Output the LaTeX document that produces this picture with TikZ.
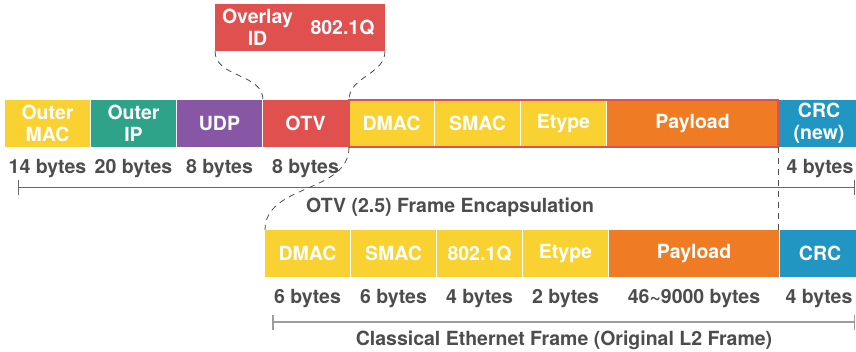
\documentclass[tikz,border=0pt]{standalone}
\usepackage{fontspec}
\setmainfont{TeX Gyre Heros}
\usetikzlibrary{positioning,arrows.meta}
\definecolor{macyellow}{HTML}{F9D231}
\definecolor{ipgreen}{HTML}{2FA38A}
\definecolor{udppurple}{HTML}{8757A6}
\definecolor{otvred}{HTML}{E0504E}
\definecolor{payorange}{HTML}{EF7C24}
\definecolor{crcblue}{HTML}{2196C2}
\definecolor{labelgray}{HTML}{4D4D4D}

\begin{document}
\begin{tikzpicture}[x=1pt, y=-1pt,
  every node/.style = {font=\fontsize{19.5}{22}\selectfont\bfseries,
    inner sep=0pt, outer sep=0pt},
  field/.style = {minimum width=85pt, minimum height=47pt,
    text=white, align=center},
  bytes/.style = {text=labelgray},
  span/.style = {draw=labelgray!85, line width=1pt,
    {Bar[width=15pt]}-{Bar[width=15pt]}},
  zoomline/.style = {draw=labelgray, line width=0.8pt,
    dash pattern=on 6pt off 5pt}]
  \useasboundingbox (0,0) rectangle (856,351);

  % OTV encapsulated frame
  \node[field, fill=macyellow, anchor=north west] (omac) at (5,100) {Outer\\MAC};
  \node[field, fill=ipgreen, right=1pt of omac] (oip) {Outer\\IP};
  \node[field, fill=udppurple, right=1pt of oip] (udp) {UDP};
  \node[field, fill=otvred, right=1pt of udp] (otv) {OTV};
  \node[field, fill=macyellow, right=1pt of otv] (dmac) {DMAC};
  \node[field, fill=macyellow, right=1pt of dmac] (smac) {SMAC};
  \node[field, fill=macyellow, right=1pt of smac] (etype) {Etype};
  \node[field, fill=payorange, minimum width=171pt, right=1pt of etype] (pay) {Payload};
  \node[field, fill=crcblue, minimum width=80pt, right=1pt of pay] (crc) {CRC\\(new)};
  \draw[otvred, line width=1.5pt] (dmac.north west) rectangle (pay.south east);

  % OTV header detail
  \node[field, fill=otvred, anchor=north west] (ovlid) at (215,4) {Overlay\\ID};
  \node[field, fill=otvred, right=0pt of ovlid] (ovltag) {802.1Q};

  \node[bytes] (b-omac) at ([yshift=-22pt]omac.south) {14 bytes};
  \node[bytes] (b-oip) at ([yshift=-22pt]oip.south) {20 bytes};
  \node[bytes] (b-udp) at ([yshift=-22pt]udp.south) {8 bytes};
  \node[bytes] (b-otv) at ([yshift=-22pt]otv.south) {8 bytes};
  \node[bytes] (b-crc) at ([xshift=1pt, yshift=-22pt]crc.south) {4 bytes};

  \coordinate (encl) at (18,187);
  \coordinate (encr) at (855,187);
  \draw[span] (encl) -- (encr);
  \node[bytes] (enctitle) at (450,207) {OTV (2.5) Frame Encapsulation};

  % original L2 frame
  \node[field, fill=macyellow, anchor=north west] (cdmac) at (265,230) {DMAC};
  \node[field, fill=macyellow, right=1pt of cdmac] (csmac) {SMAC};
  \node[field, fill=macyellow, right=1pt of csmac] (cvlan) {802.1Q};
  \node[field, fill=macyellow, right=1pt of cvlan] (cetype) {Etype};
  \node[field, fill=payorange, minimum width=170pt, right=1pt of cetype] (cpay) {Payload};
  \node[field, fill=crcblue, minimum width=80pt, right=1pt of cpay] (ccrc) {CRC};

  \node[bytes] (b-cdmac) at ([yshift=-22pt]cdmac.south) {6 bytes};
  \node[bytes] (b-csmac) at ([yshift=-22pt]csmac.south) {6 bytes};
  \node[bytes] (b-cvlan) at ([yshift=-22pt]cvlan.south) {4 bytes};
  \node[bytes] (b-cetype) at ([yshift=-22pt]cetype.south) {2 bytes};
  \node[bytes] (b-cpay) at ([yshift=-22pt]cpay.south) {46\textasciitilde9000 bytes};
  \node[bytes] (b-ccrc) at ([xshift=-1pt, yshift=-22pt]ccrc.south) {4 bytes};

  \coordinate (l2l) at (272,322);
  \coordinate (l2r) at (855,322);
  \draw[span, draw=labelgray!55, line width=1.5pt] (l2l) -- (l2r);
  \node[bytes] (l2title) at (564,340) {Classical Ethernet Frame (Original L2 Frame)};

  % zoom lines
  \draw[zoomline] (ovlid.south west) to[out=-90, in=90] (otv.north west);
  \draw[zoomline] (ovltag.south east) to[out=-90, in=90] (dmac.north west);
  \draw[zoomline] (dmac.south west) to[out=-90, in=90] (cdmac.north west);
  \draw[zoomline] (pay.south east) -- (pay.south east |- ccrc.north);
\end{tikzpicture}
\end{document}
